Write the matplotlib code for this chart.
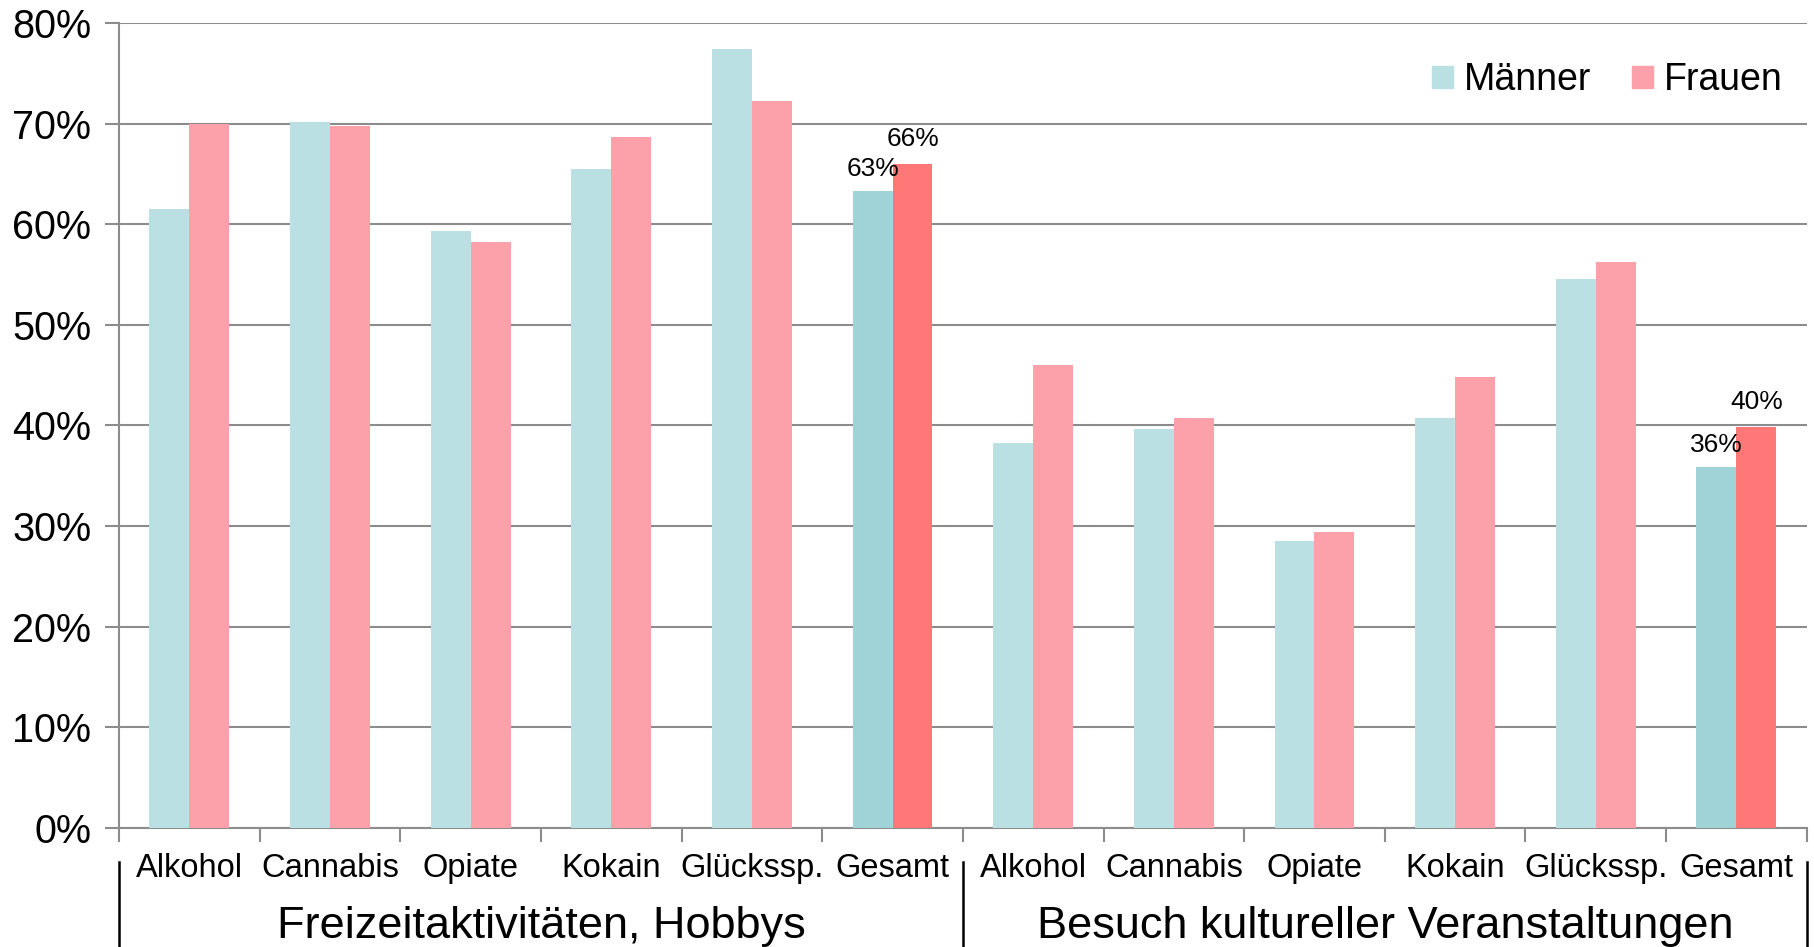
import matplotlib
matplotlib.use("Agg")
import matplotlib.pyplot as plt
import matplotlib.transforms as mtransforms
from matplotlib.patches import Patch
import numpy as np

plt.rcParams["font.family"] = ["Liberation Sans", "DejaVu Sans"]

# Daten
kategorien = ["Alkohol", "Cannabis", "Opiate", "Kokain", "Glückssp.", "Gesamt"]
gruppen = ["Freizeitaktivitäten, Hobbys", "Besuch kultureller Veranstaltungen"]

maenner_freizeit = [61.5, 70.2, 59.3, 65.5, 77.4, 63.3]
frauen_freizeit = [70.0, 69.8, 58.2, 68.7, 72.2, 66.0]
maenner_kultur = [38.3, 39.7, 28.5, 40.7, 54.6, 35.9]
frauen_kultur = [46.0, 40.7, 29.4, 44.8, 56.2, 39.8]

gesamt_labels_m = ["63%", "36%"]
gesamt_labels_f = ["66%", "40%"]

c_m = "#bae0e3"
c_f = "#fca1a9"
c_m_ges = "#9fd3d7"
c_f_ges = "#ff7878"
grau = "#8c8c8c"

maenner = maenner_freizeit + maenner_kultur
frauen = frauen_freizeit + frauen_kultur
n = len(maenner)
x = np.arange(n) + 0.5
bw = 0.284

fig = plt.figure(figsize=(18.14, 9.47), dpi=100)
ax = fig.add_axes([0.0656, 0.1257, 0.9304, 0.85])

farben_m = [c_m_ges if k == "Gesamt" else c_m for k in kategorien * 2]
farben_f = [c_f_ges if k == "Gesamt" else c_f for k in kategorien * 2]
ax.bar(x - bw / 2, maenner, bw, color=farben_m, zorder=3)
ax.bar(x + bw / 2, frauen, bw, color=farben_f, zorder=3)

# Beschriftung der Gesamt-Balken
for g in range(2):
    i = g * 6 + 5
    ax.text(x[i] - bw / 2, maenner[i] + 1.0, gesamt_labels_m[g], ha="center",
            va="bottom", fontsize=19, zorder=4)
    ax.text(x[i] + bw / 2, frauen[i] + 1.3, gesamt_labels_f[g], ha="center",
            va="bottom", fontsize=19, zorder=4)

ax.set_xlim(0, n)
ax.set_ylim(0, 80)
ax.set_yticks(np.arange(0, 81, 10))
ax.set_yticklabels([f"{v}%" for v in range(0, 81, 10)], fontsize=28.5)
ax.set_xticks(np.arange(0, n + 1))
ax.set_xticklabels([])
ax.grid(axis="y", color=grau, linewidth=1.5, zorder=0)
ax.tick_params(axis="both", color=grau, width=1.5, length=10, direction="out")
ax.tick_params(axis="y", pad=10)
for s in ["top", "right"]:
    ax.spines[s].set_visible(False)
for s in ["left", "bottom"]:
    ax.spines[s].set_color(grau)
    ax.spines[s].set_linewidth(1.5)

trans = mtransforms.blended_transform_factory(ax.transData, ax.transAxes)
for i, k in enumerate(kategorien * 2):
    ax.text(x[i], -0.05, k, transform=trans, ha="center", va="center", fontsize=23.5)
for g, name in enumerate(gruppen):
    ax.text(g * 6 + 3, -0.122, name, transform=trans, ha="center", va="center",
            fontsize=32.5)
for xs in [0, 6, 12]:
    ax.plot([xs, xs], [-0.042, -0.16], transform=trans, color="black",
            linewidth=1.8, clip_on=False)

handles = [Patch(color=c_m, label="Männer"), Patch(color=c_f, label="Frauen")]
ax.legend(handles=handles, ncol=2, loc="upper right", bbox_to_anchor=(1.006, 0.993),
          frameon=False, fontsize=27, handlelength=0.55, handleheight=0.55,
          handletextpad=0.3, columnspacing=1.1)

fig.savefig("out.png", dpi=100)
